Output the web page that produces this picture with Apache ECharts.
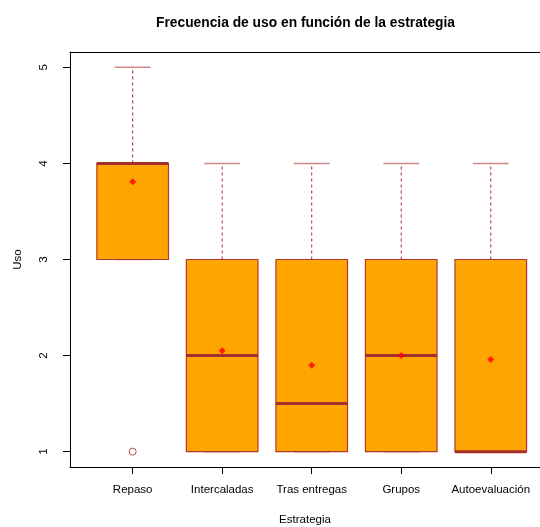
<!DOCTYPE html>
<html>
<head>
<meta charset="utf-8">
<script src="https://cdn.jsdelivr.net/npm/echarts@6/dist/echarts.min.js"></script>
<style>
  html, body { margin: 0; padding: 0; background: #fff; }
  #chart { width: 540px; height: 527px; }
</style>
</head>
<body>
<div id="chart"></div>
<script>
  // values
  var categories = ['Repaso', 'Intercaladas', 'Tras entregas', 'Grupos', 'Autoevaluación'];
  var lowWhisker = [3, 1, 1, 1, 1];
  var q1 = [3, 1, 1, 1, 1];
  var medians = [4, 2, 1.5, 2, 1];
  var q3 = [4, 3, 3, 3, 3];
  var highWhisker = [5, 4, 4, 4, 4];
  var means = [3.81, 2.05, 1.9, 2.0, 1.96];
  var outlierCat = [0];
  var outlierVal = [1];
  var yTicks = [1, 2, 3, 4, 5];
  var xTicks = [1, 2, 3, 4, 5];

  var FONT = '"Liberation Sans", Arial, Helvetica, sans-serif';
  var BROWN = '#A52A2A';

  var boxRows = categories.map(function (c, i) {
    return [i + 1, lowWhisker[i], q1[i], medians[i], q3[i], highWhisker[i]];
  });
  var meanRows = categories.map(function (c, i) { return [i + 1, means[i]]; });
  var outRows = outlierCat.map(function (c, i) { return [c + 1, outlierVal[i]]; });

  function renderBox(params, api) {
    var x = api.value(0);
    var boxW = api.size([0.8, 0])[0];
    var capW = api.size([0.4, 0])[0];
    var pLo = api.coord([x, api.value(1)]);
    var pQ1 = api.coord([x, api.value(2)]);
    var pMed = api.coord([x, api.value(3)]);
    var pQ3 = api.coord([x, api.value(4)]);
    var pHi = api.coord([x, api.value(5)]);
    var cx = pQ1[0];
    var dashed = { stroke: BROWN, lineWidth: 1, lineDash: [3, 3] };
    var cap = { stroke: 'rgba(165,42,42,0.55)', lineWidth: 1.5 };
    return {
      type: 'group',
      children: [
        { type: 'line', shape: { x1: cx, y1: pQ3[1], x2: cx, y2: pHi[1] }, style: dashed },
        { type: 'line', shape: { x1: cx, y1: pQ1[1], x2: cx, y2: pLo[1] }, style: dashed },
        { type: 'line', shape: { x1: cx - capW / 2, y1: pHi[1], x2: cx + capW / 2, y2: pHi[1] }, style: cap },
        { type: 'line', shape: { x1: cx - capW / 2, y1: pLo[1], x2: cx + capW / 2, y2: pLo[1] }, style: cap },
        {
          type: 'rect',
          shape: { x: cx - boxW / 2, y: pQ3[1], width: boxW, height: pQ1[1] - pQ3[1] },
          style: { fill: '#FFA500', stroke: '#B03A2E', lineWidth: 1.2 }
        },
        {
          type: 'line',
          shape: { x1: cx - boxW / 2, y1: pMed[1], x2: cx + boxW / 2, y2: pMed[1] },
          style: { stroke: '#A3302B', lineWidth: 3 }
        }
      ]
    };
  }

  // the R plot region runs 0.3..5.7 but is cut by the image edge
  var xMin = 0.3, xMax = 5.55;
  var frameLine = { show: true, onZero: false, lineStyle: { color: '#000', width: 1 } };

  var chart = echarts.init(document.getElementById('chart'), null, { renderer: 'canvas' });
  chart.setOption({
    animation: false,
    backgroundColor: '#fff',
    title: {
      text: 'Frecuencia de uso en función de la estrategia',
      left: 151,
      top: 11,
      textStyle: { fontFamily: FONT, fontSize: 13.8, fontWeight: 'bold', color: '#000' }
    },
    grid: { left: 70, right: 0, top: 52, bottom: 60, outerBoundsMode: 'none' },
    xAxis: [{
      type: 'value',
      min: xMin, max: xMax,
      name: 'Estrategia',
      nameLocation: 'middle',
      nameGap: 47,
      nameTextStyle: { fontFamily: FONT, fontSize: 11.5, color: '#000' },
      splitLine: { show: false },
      axisLine: frameLine,
      axisTick: { show: true, length: 7, customValues: xTicks, lineStyle: { color: '#000' } },
      axisLabel: {
        customValues: xTicks,
        margin: 17,
        fontFamily: FONT, fontSize: 11.5, color: '#000',
        formatter: function (v) { return categories[Math.round(v) - 1] || ''; }
      }
    }, {
      type: 'value',
      position: 'top',
      min: xMin, max: xMax,
      splitLine: { show: false },
      axisLine: frameLine,
      axisTick: { show: false },
      axisLabel: { show: false }
    }],
    yAxis: {
      type: 'value',
      min: 0.84, max: 5.16,
      name: 'Uso',
      nameLocation: 'middle',
      nameGap: 46,
      nameTextStyle: { fontFamily: FONT, fontSize: 11.5, color: '#000' },
      splitLine: { show: false },
      axisLine: frameLine,
      axisTick: { show: true, length: 7, customValues: yTicks, lineStyle: { color: '#000' } },
      axisLabel: {
        customValues: yTicks,
        rotate: 90,
        margin: 20,
        fontFamily: FONT, fontSize: 11.5, color: '#000'
      }
    },
    series: [
      {
        type: 'custom',
        renderItem: renderBox,
        data: boxRows,
        encode: { x: 0, y: [1, 2, 3, 4, 5] },
        clip: false,
        z: 2
      },
      {
        type: 'scatter',
        data: outRows,
        symbol: 'circle',
        symbolSize: 7,
        itemStyle: { color: '#fff', borderColor: BROWN, borderWidth: 1 },
        z: 3
      },
      {
        type: 'scatter',
        data: meanRows,
        symbol: 'diamond',
        symbolSize: 7,
        itemStyle: { color: '#FF0000' },
        z: 4
      }
    ]
  });
</script>
</body>
</html>
